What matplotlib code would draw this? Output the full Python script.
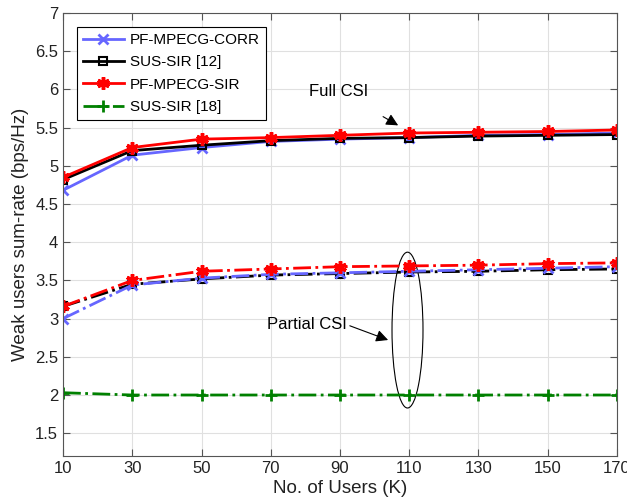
import matplotlib.pyplot as plt
from matplotlib.patches import Ellipse

plt.rcParams['font.family'] = ['Liberation Sans', 'DejaVu Sans']

users = [10, 30, 50, 70, 90, 110, 130, 150, 170]

# full CSI
corr_full = [4.68, 5.14, 5.24, 5.32, 5.35, 5.37, 5.40, 5.41, 5.43]
sus12_full = [4.82, 5.20, 5.27, 5.33, 5.36, 5.37, 5.39, 5.40, 5.41]
sir_full = [4.85, 5.24, 5.35, 5.37, 5.40, 5.43, 5.44, 5.45, 5.47]

# partial CSI
corr_part = [3.00, 3.44, 3.53, 3.58, 3.60, 3.62, 3.64, 3.66, 3.68]
sus12_part = [3.16, 3.45, 3.52, 3.57, 3.59, 3.61, 3.62, 3.64, 3.65]
sir_part = [3.16, 3.50, 3.62, 3.65, 3.68, 3.69, 3.70, 3.72, 3.73]
sus18 = [2.03, 2.00, 2.00, 2.00, 2.00, 2.00, 2.00, 2.00, 2.00]

xticks = [10, 30, 50, 70, 90, 110, 130, 150, 170]
yticks = [1.5, 2, 2.5, 3, 3.5, 4, 4.5, 5, 5.5, 6, 6.5, 7]

fig = plt.figure(figsize=(6.27, 5.04), dpi=100)
ax = fig.add_axes([0.1005, 0.095, 0.8835, 0.879])

blue = '#6666ff'
lw = 2
star = (6, 2, 0)  # asterisk like MATLAB '*'

ax.plot(users, corr_full, '-x', color=blue, lw=lw, ms=7, mew=2, label='PF-MPECG-CORR')
ax.plot(users, sus12_full, '-s', color='black', lw=lw, ms=6, mew=1.5, mfc='none', label='SUS-SIR [12]')
ax.plot(users, sir_full, '-', marker=star, color='red', lw=lw, ms=9, mew=2.5, label='PF-MPECG-SIR')
ax.plot(users, sus18, '-.+', color='green', lw=lw, ms=9, mew=2, label='SUS-SIR [18]')

ax.plot(users, sus12_part, '-.s', color='black', lw=lw, ms=6, mew=1.5, mfc='none')
ax.plot(users, corr_part, '-.x', color=blue, lw=lw, ms=7, mew=2)
ax.plot(users, sir_part, '-.', marker=star, color='red', lw=lw, ms=9, mew=2.5)

ax.set_xlim(10, 170)
ax.set_ylim(1.2, 7)
ax.set_xticks(xticks)
ax.set_yticks(yticks)
ax.set_yticklabels([f'{t:g}' for t in yticks])
ax.grid(True, color='#e0e0e0', lw=0.8)
ax.set_axisbelow(True)
ax.tick_params(direction='in', labelsize=12, top=True, right=True, colors='#555555',
               labelcolor='#222222', length=5)
for s in ax.spines.values():
    s.set_color('#555555')

ax.set_xlabel('No. of Users (K)', fontsize=13.5, color='#222222', labelpad=3)
ax.set_ylabel('Weak users sum-rate (bps/Hz)', fontsize=13.5, color='#222222')

leg = ax.legend(loc='upper left', fontsize=11, fancybox=False, edgecolor='black',
                framealpha=1, handlelength=2.7, handletextpad=0.4,
                borderaxespad=0.9, labelspacing=0.55)
leg.get_frame().set_linewidth(0.8)

# annotations
ax.annotate('Full CSI', xy=(106.8, 5.53), xytext=(89.7, 5.98), fontsize=12,
            ha='center', va='center',
            arrowprops=dict(arrowstyle='-|>', color='black', lw=0.8, mutation_scale=18,
                            shrinkA=22, shrinkB=0))
ax.annotate('Partial CSI', xy=(103.9, 2.72), xytext=(80.5, 2.92), fontsize=12,
            ha='center', va='center',
            arrowprops=dict(arrowstyle='-|>', color='black', lw=0.8, mutation_scale=18,
                            shrinkA=0, shrinkB=0, relpos=(1.0, 0.5)))
ax.add_patch(Ellipse((109.5, 2.85), 8.95, 2.04, fill=False, edgecolor='black', lw=0.8))

fig.savefig('out.png', dpi=100)
